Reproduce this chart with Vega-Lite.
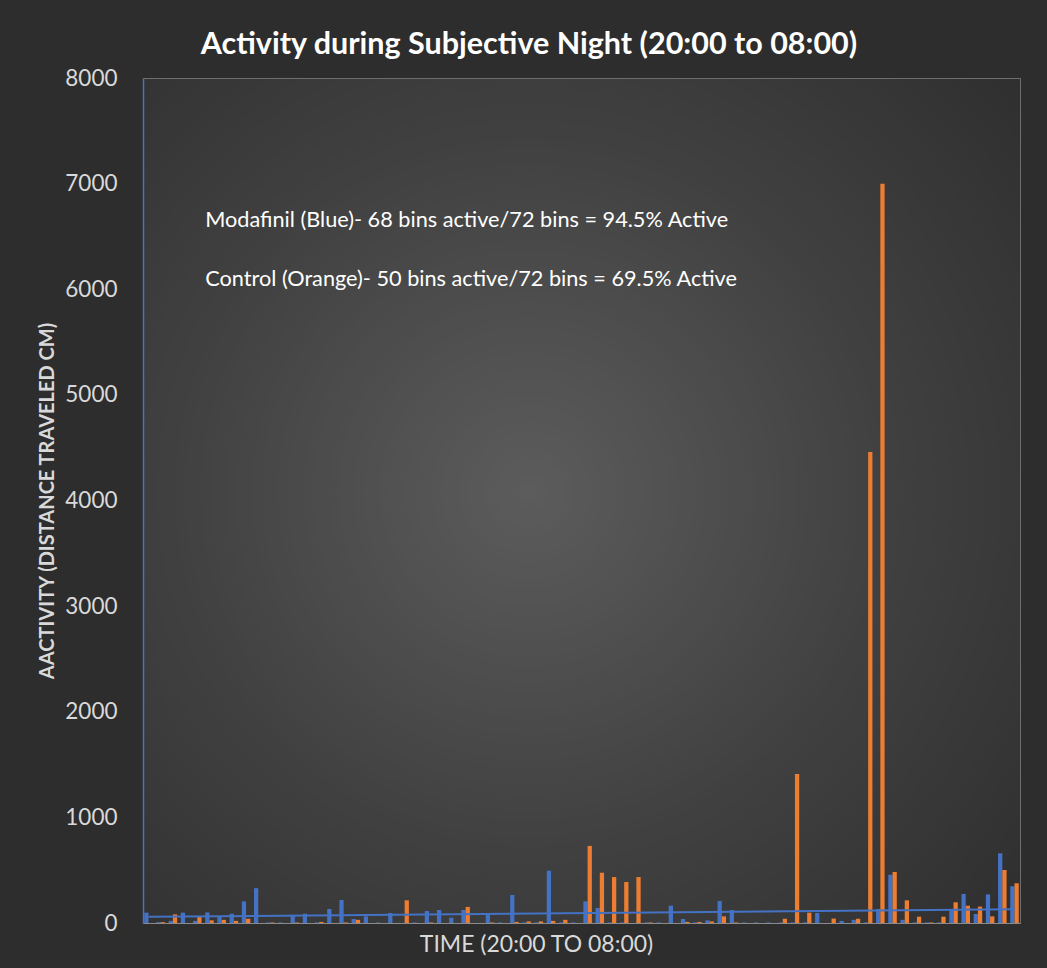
{
  "$schema": "https://vega.github.io/schema/vega-lite/v6.json",
  "width": 877,
  "height": 845,
  "autosize": {"type": "none"},
  "padding": {"left": 143, "top": 78, "right": 27, "bottom": 45},
  "background": "#2d2d2d",
  "title": {
    "text": "Activity during Subjective Night (20:00 to 08:00)",
    "font": "Lato",
    "fontSize": 30.5,
    "fontWeight": "bold",
    "color": "#ffffff",
    "anchor": "middle",
    "frame": "bounds",
    "offset": 7
  },
  "datasets": {
    "bars": [
      {"bin": 1, "Modafinil": 98, "Control": 0},
      {"bin": 2, "Modafinil": 8, "Control": 8},
      {"bin": 3, "Modafinil": 20, "Control": 82},
      {"bin": 4, "Modafinil": 98, "Control": 0},
      {"bin": 5, "Modafinil": 20, "Control": 60},
      {"bin": 6, "Modafinil": 100, "Control": 25},
      {"bin": 7, "Modafinil": 60, "Control": 30},
      {"bin": 8, "Modafinil": 88, "Control": 20},
      {"bin": 9, "Modafinil": 205, "Control": 40},
      {"bin": 10, "Modafinil": 330, "Control": 0},
      {"bin": 11, "Modafinil": 5, "Control": 5},
      {"bin": 12, "Modafinil": 5, "Control": 0},
      {"bin": 13, "Modafinil": 66, "Control": 5},
      {"bin": 14, "Modafinil": 88, "Control": 0},
      {"bin": 15, "Modafinil": 5, "Control": 10},
      {"bin": 16, "Modafinil": 133, "Control": 0},
      {"bin": 17, "Modafinil": 218, "Control": 5},
      {"bin": 18, "Modafinil": 38, "Control": 30},
      {"bin": 19, "Modafinil": 63, "Control": 0},
      {"bin": 20, "Modafinil": 5, "Control": 0},
      {"bin": 21, "Modafinil": 95, "Control": 0},
      {"bin": 22, "Modafinil": 0, "Control": 215},
      {"bin": 23, "Modafinil": 5, "Control": 0},
      {"bin": 24, "Modafinil": 114, "Control": 5},
      {"bin": 25, "Modafinil": 123, "Control": 0},
      {"bin": 26, "Modafinil": 50, "Control": 0},
      {"bin": 27, "Modafinil": 123, "Control": 152},
      {"bin": 28, "Modafinil": 0, "Control": 0},
      {"bin": 29, "Modafinil": 91, "Control": 5},
      {"bin": 30, "Modafinil": 5, "Control": 0},
      {"bin": 31, "Modafinil": 265, "Control": 10},
      {"bin": 32, "Modafinil": 5, "Control": 15},
      {"bin": 33, "Modafinil": 5, "Control": 15},
      {"bin": 34, "Modafinil": 495, "Control": 20},
      {"bin": 35, "Modafinil": 5, "Control": 30},
      {"bin": 36, "Modafinil": 5, "Control": 0},
      {"bin": 37, "Modafinil": 205, "Control": 730},
      {"bin": 38, "Modafinil": 142, "Control": 476},
      {"bin": 39, "Modafinil": 5, "Control": 435},
      {"bin": 40, "Modafinil": 5, "Control": 388},
      {"bin": 41, "Modafinil": 0, "Control": 435},
      {"bin": 42, "Modafinil": 5, "Control": 5},
      {"bin": 43, "Modafinil": 5, "Control": 0},
      {"bin": 44, "Modafinil": 164, "Control": 0},
      {"bin": 45, "Modafinil": 38, "Control": 10},
      {"bin": 46, "Modafinil": 5, "Control": 10},
      {"bin": 47, "Modafinil": 25, "Control": 15},
      {"bin": 48, "Modafinil": 208, "Control": 63},
      {"bin": 49, "Modafinil": 123, "Control": 5},
      {"bin": 50, "Modafinil": 5, "Control": 0},
      {"bin": 51, "Modafinil": 5, "Control": 0},
      {"bin": 52, "Modafinil": 5, "Control": 0},
      {"bin": 53, "Modafinil": 5, "Control": 40},
      {"bin": 54, "Modafinil": 5, "Control": 1410},
      {"bin": 55, "Modafinil": 5, "Control": 98},
      {"bin": 56, "Modafinil": 95, "Control": 0},
      {"bin": 57, "Modafinil": 0, "Control": 42},
      {"bin": 58, "Modafinil": 20, "Control": 0},
      {"bin": 59, "Modafinil": 30, "Control": 40},
      {"bin": 60, "Modafinil": 5, "Control": 4460},
      {"bin": 61, "Modafinil": 133, "Control": 7000},
      {"bin": 62, "Modafinil": 457, "Control": 483},
      {"bin": 63, "Modafinil": 30, "Control": 215},
      {"bin": 64, "Modafinil": 5, "Control": 60},
      {"bin": 65, "Modafinil": 5, "Control": 5},
      {"bin": 66, "Modafinil": 5, "Control": 60},
      {"bin": 67, "Modafinil": 123, "Control": 196},
      {"bin": 68, "Modafinil": 275, "Control": 164},
      {"bin": 69, "Modafinil": 85, "Control": 155},
      {"bin": 70, "Modafinil": 271, "Control": 63},
      {"bin": 71, "Modafinil": 660, "Control": 502},
      {"bin": 72, "Modafinil": 348, "Control": 376}
    ],
    "trend": [
      {"bin": 1, "value": 58},
      {"bin": 72, "value": 130}
    ]
  },
  "layer": [
    {
      "data": {"name": "bars"},
      "transform": [{"fold": ["Modafinil", "Control"], "as": ["series", "value"]}],
      "mark": {"type": "bar"},
      "encoding": {
        "x": {
          "field": "bin",
          "type": "ordinal",
          "scale": {"paddingInner": 0.3, "paddingOuter": 0.1},
          "axis": {
            "labels": false,
            "ticks": false,
            "domainColor": "#8a8a8a",
            "title": "TIME (20:00 TO 08:00)",
            "titleFont": "Lato",
            "titleFontSize": 23,
            "titleFontWeight": "normal",
            "titleColor": "#d9d9d9",
            "titlePadding": 10,
            "titleX": 393
          }
        },
        "xOffset": {"field": "series", "type": "nominal", "scale": {"domain": ["Modafinil", "Control"]}},
        "y": {
          "field": "value",
          "type": "quantitative",
          "scale": {"domain": [0, 8000], "nice": false},
          "axis": {
            "values": [0, 1000, 2000, 3000, 4000, 5000, 6000, 7000, 8000],
            "format": "d",
            "grid": false,
            "ticks": false,
            "domainColor": "#4472c4",
            "domainWidth": 1.5,
            "labelFont": "Lato",
            "labelFontSize": 22.5,
            "labelColor": "#d9d9d9",
            "labelPadding": 26,
            "title": "AACTIVITY (DISTANCE TRAVELED CM)",
            "titleFont": "Lato",
            "titleFontSize": 20,
            "titleFontWeight": "bold",
            "titleColor": "#d9d9d9",
            "titlePadding": 7
          }
        },
        "color": {
          "field": "series",
          "type": "nominal",
          "scale": {"domain": ["Modafinil", "Control"], "range": ["#4472c4", "#ed7d31"]},
          "legend": null
        }
      }
    },
    {
      "data": {"name": "trend"},
      "mark": {"type": "line", "color": "#4472c4", "strokeWidth": 2},
      "encoding": {
        "x": {"field": "bin", "type": "ordinal"},
        "y": {"field": "value", "type": "quantitative"}
      }
    },
    {
      "data": {"values": [{}]},
      "mark": {"type": "text", "text": "Modafinil (Blue)- 68 bins active/72 bins = 94.5% Active", "font": "Lato", "fontSize": 21.7, "color": "#ffffff", "align": "left", "baseline": "middle"},
      "encoding": {
        "x": {"datum": 6, "type": "ordinal", "bandPosition": 0},
        "y": {"datum": 6655, "type": "quantitative"}
      }
    },
    {
      "data": {"values": [{}]},
      "mark": {"type": "text", "text": "Control (Orange)- 50 bins active/72 bins = 69.5% Active", "font": "Lato", "fontSize": 21.7, "color": "#ffffff", "align": "left", "baseline": "middle"},
      "encoding": {
        "x": {"datum": 6, "type": "ordinal", "bandPosition": 0},
        "y": {"datum": 6100, "type": "quantitative"}
      }
    }
  ],
  "config": {
    "view": {
      "stroke": "#6e6e6e",
      "fill": {
        "gradient": "radial",
        "x1": 0.44, "y1": 0.49, "r1": 0,
        "x2": 0.44, "y2": 0.49, "r2": 0.75,
        "stops": [
          {"offset": 0, "color": "#5c5c5c"},
          {"offset": 0.2, "color": "#525252"},
          {"offset": 0.55, "color": "#404040"},
          {"offset": 1, "color": "#2e2e2e"}
        ]
      }
    }
  }
}
